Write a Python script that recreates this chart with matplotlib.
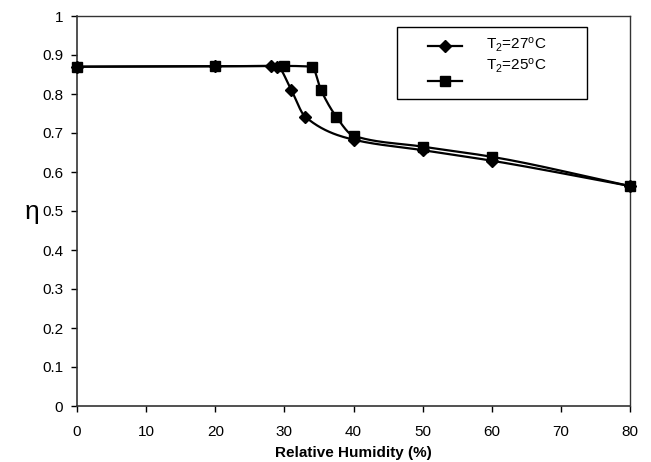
import numpy as np
import matplotlib
matplotlib.use("Agg")
import matplotlib.pyplot as plt
from matplotlib.patches import Rectangle
from matplotlib.lines import Line2D

plt.rcParams['font.family'] = ['Liberation Sans', 'DejaVu Sans']
plt.rcParams['mathtext.fontset'] = 'custom'
plt.rcParams['mathtext.rm'] = 'Liberation Sans'
plt.rcParams['mathtext.it'] = 'Liberation Sans:italic'

# Data
rh_27 = [0, 20, 28, 29, 31, 33, 40, 50, 60, 80]
eta_27 = [0.87, 0.871, 0.872, 0.87, 0.81, 0.742, 0.683, 0.656, 0.629, 0.564]
rh_25 = [0, 20, 30, 34, 35.3, 37.5, 40, 50, 60, 80]
eta_25 = [0.87, 0.871, 0.872, 0.87, 0.81, 0.742, 0.693, 0.665, 0.639, 0.564]
label_27 = 'T$_2$=27$^\\mathrm{o}$C'
label_25 = 'T$_2$=25$^\\mathrm{o}$C'
x_ticks = [0, 10, 20, 30, 40, 50, 60, 70, 80]
y_ticks = [0, 0.1, 0.2, 0.3, 0.4, 0.5, 0.6, 0.7, 0.8, 0.9, 1.0]
y_tick_labels = ['0', '0.1', '0.2', '0.3', '0.4', '0.5', '0.6', '0.7', '0.8', '0.9', '1']


def smooth(xs, ys, n=25):
    # Monotone cubic (Fritsch-Carlson) rendering of the line between data points
    x = np.asarray(xs, float)
    y = np.asarray(ys, float)
    h = np.diff(x)
    d = np.diff(y) / h
    m = np.zeros_like(y)
    m[0], m[-1] = d[0], d[-1]
    for k in range(1, len(x) - 1):
        if d[k - 1] * d[k] <= 0:
            m[k] = 0.0
        else:
            w1 = 2 * h[k] + h[k - 1]
            w2 = h[k] + 2 * h[k - 1]
            m[k] = (w1 + w2) / (w1 / d[k - 1] + w2 / d[k])
    ox, oy = [], []
    for k in range(len(x) - 1):
        t = np.linspace(0, 1, n)
        h00 = 2 * t ** 3 - 3 * t ** 2 + 1
        h10 = t ** 3 - 2 * t ** 2 + t
        h01 = -2 * t ** 3 + 3 * t ** 2
        h11 = t ** 3 - t ** 2
        ox.extend(x[k] + t * h[k])
        oy.extend(h00 * y[k] + h10 * h[k] * m[k] + h01 * y[k + 1] + h11 * h[k] * m[k + 1])
    return np.array(ox), np.array(oy)


fig = plt.figure(figsize=(6.51, 4.62), dpi=100)
ax = fig.add_axes([77 / 651, 1 - 406 / 462, 553 / 651, 390 / 462])

sx, sy = smooth(rh_27, eta_27)
ax.plot(sx, sy, color='black', lw=1.6, zorder=3, clip_on=False)
ax.plot(rh_27, eta_27, linestyle='none', marker='D', markersize=6, color='black', zorder=4, clip_on=False)
sx, sy = smooth(rh_25, eta_25)
ax.plot(sx, sy, color='black', lw=1.6, zorder=3, clip_on=False)
ax.plot(rh_25, eta_25, linestyle='none', marker='s', markersize=7, color='black', zorder=4, clip_on=False)

ax.set_xlim(0, 80)
ax.set_ylim(0, 1)
ax.set_xticks(x_ticks)
ax.set_xticklabels([str(v) for v in x_ticks])
ax.set_yticks(y_ticks)
ax.set_yticklabels(y_tick_labels)
ax.tick_params(axis='both', direction='out', length=4, width=1, labelsize=11, colors='black')
ax.tick_params(axis='x', pad=10)
ax.tick_params(axis='y', pad=6)

for side in ['left', 'bottom']:
    ax.spines[side].set_linewidth(1.2)
    ax.spines[side].set_color('#333333')
for side in ['top', 'right']:
    ax.spines[side].set_linestyle((0, (1, 1)))
    ax.spines[side].set_linewidth(1.0)
    ax.spines[side].set_color('#333333')

fig.text(353 / 651, 1 - 453 / 462, 'Relative Humidity (%)', fontsize=11, fontweight='bold',
         ha='center', va='center')
fig.text(32 / 651, 1 - 212 / 462, 'η', fontsize=19, ha='center', va='center')

# Manual legend (Excel-like layout)
lx0, lx1 = (397 - 77) / 553, (587 - 77) / 553
ly0, ly1 = (406 - 99) / 390, (406 - 27) / 390
ax.add_patch(Rectangle((lx0, ly0), lx1 - lx0, ly1 - ly0, transform=ax.transAxes,
                       facecolor='white', edgecolor='black', lw=1.0, zorder=5))
hx0, hx1 = (428 - 77) / 553, (462 - 77) / 553
hy1 = (406 - 45.5) / 390
hy2 = (406 - 81) / 390
ax.add_line(Line2D([hx0, hx1], [hy1, hy1], transform=ax.transAxes, color='black', lw=1.6, zorder=6))
ax.add_line(Line2D([(hx0 + hx1) / 2], [hy1], transform=ax.transAxes, color='black', marker='D',
                   markersize=6, zorder=6))
ax.add_line(Line2D([hx0, hx1], [hy2, hy2], transform=ax.transAxes, color='black', lw=1.6, zorder=6))
ax.add_line(Line2D([(hx0 + hx1) / 2], [hy2], transform=ax.transAxes, color='black', marker='s',
                   markersize=7, zorder=6))
tx = (486 - 77) / 553
ax.text(tx, (406 - 45) / 390, label_27, transform=ax.transAxes, fontsize=11, va='center', ha='left', zorder=6)
ax.text(tx, (406 - 66) / 390, label_25, transform=ax.transAxes, fontsize=11, va='center', ha='left', zorder=6)

fig.savefig('out.png', dpi=100)
